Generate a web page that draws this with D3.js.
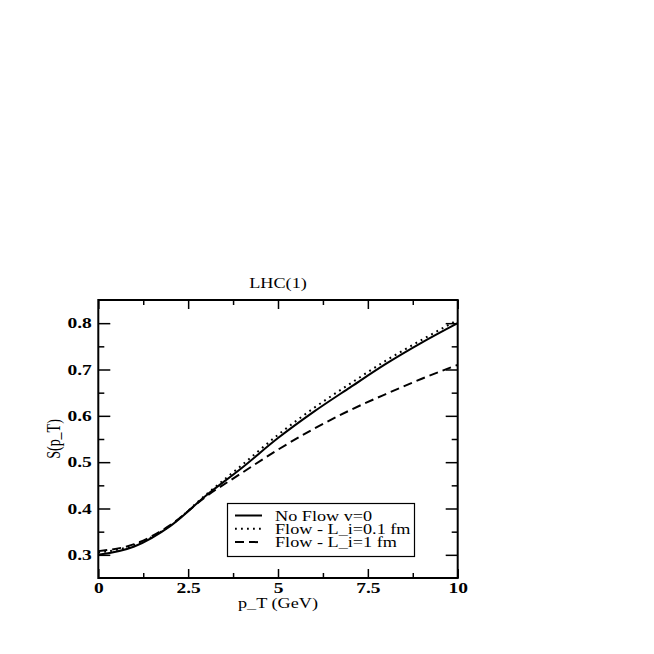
<!DOCTYPE html>
<html>
<head>
<meta charset="utf-8">
<script src="https://cdn.jsdelivr.net/npm/d3@7"></script>
<style>
  body { margin: 0; background: #fff; }
  svg { display: block; }
  .tick-label { font-family: 'Liberation Serif', 'Times New Roman', serif; font-weight: bold; font-size: 15px; }
  .axis-name { font-family: 'Liberation Serif', 'Times New Roman', serif; font-size: 14px; }
</style>
</head>
<body>
<div id="chart"></div>
<script>
// Data
const ptValues = [0, 1, 2, 3, 4, 5, 6, 7, 8, 9, 10];
const noFlow = [0.300, 0.318, 0.362, 0.428, 0.488, 0.552, 0.609, 0.661, 0.712, 0.758, 0.800];
const flowShort = [0.305, 0.321, 0.363, 0.430, 0.494, 0.559, 0.617, 0.669, 0.719, 0.764, 0.807];
const flowLong = [0.308, 0.323, 0.364, 0.426, 0.477, 0.527, 0.572, 0.612, 0.647, 0.680, 0.710];

const seriesNames = ['No Flow v=0', 'Flow - L_i=0.1 fm', 'Flow - L_i=1 fm'];
const xMajor = [0, 2.5, 5, 7.5, 10];
const xMinor = [1.25, 3.75, 6.25, 8.75];
const yMajor = [0.3, 0.4, 0.5, 0.6, 0.7, 0.8];
const yMinor = [0.35, 0.45, 0.55, 0.65, 0.75];

const width = 654;
const height = 654;
const stretch = 1.3; // glyphs in the picture are wider than tall

const svg = d3.select('#chart')
  .append('svg')
  .attr('width', width)
  .attr('height', height);

svg.append('rect').attr('width', width).attr('height', height).attr('fill', '#fff');

const x = d3.scaleLinear().domain([0, 10]).range([98.3, 457.7]);
const y = d3.scaleLinear().domain([0.25, 0.85]).range([578, 300]);

const [x0, x1] = x.range();
const [yb, yt] = y.range();

// ticks inside the frame, on all four sides
function drawTicks(axis, tx, ty, values, size, labels) {
  const g = svg.append('g')
    .attr('transform', `translate(${tx},${ty})`)
    .call(axis.tickValues(values).tickSize(-size).tickSizeOuter(0).tickPadding(labels ? 6 : 0)
      .tickFormat(labels ? (d) => String(d) : ''));
  g.select('.domain').remove();
  g.selectAll('.tick line').attr('stroke', '#000').attr('stroke-width', 1.5);
  return g;
}

const bottom = drawTicks(d3.axisBottom(x), 0, yb, xMajor, 9, true);
drawTicks(d3.axisBottom(x), 0, yb, xMinor, 5, false);
drawTicks(d3.axisTop(x), 0, yt, xMajor, 9, false);
drawTicks(d3.axisTop(x), 0, yt, xMinor, 5, false);
const left = drawTicks(d3.axisLeft(y), x0, 0, yMajor, 12, true);
drawTicks(d3.axisLeft(y), x0, 0, yMinor, 6, false);
drawTicks(d3.axisRight(y), x1, 0, yMajor, 12, false);
drawTicks(d3.axisRight(y), x1, 0, yMinor, 6, false);

bottom.selectAll('text')
  .attr('class', 'tick-label')
  .attr('fill', '#000')
  .attr('y', 4)
  .attr('transform', `scale(${stretch},1)`);

left.selectAll('text')
  .attr('class', 'tick-label')
  .attr('fill', '#000')
  .attr('x', -5)
  .attr('transform', `scale(${stretch},1)`);

// frame
svg.append('rect')
  .attr('x', x0)
  .attr('y', yt)
  .attr('width', x1 - x0)
  .attr('height', yb - yt)
  .attr('fill', 'none')
  .attr('stroke', '#000')
  .attr('stroke-width', 2);

// curves
const styles = [
  { dash: null, w: 2 },
  { dash: '1.8,4.2', w: 2 },
  { dash: '9,5', w: 2 },
];
const allSeries = [noFlow, flowShort, flowLong];

const line = d3.line()
  .curve(d3.curveMonotoneX)
  .x((d) => x(d[0]))
  .y((d) => y(d[1]));

allSeries.forEach((vals, i) => {
  svg.append('path')
    .datum(ptValues.map((p, k) => [p, vals[k]]))
    .attr('fill', 'none')
    .attr('stroke', '#000')
    .attr('stroke-width', styles[i].w)
    .attr('stroke-dasharray', styles[i].dash)
    .attr('d', line);
});

// labels
function stretchedText(tx, ty, str, anchor) {
  return svg.append('text')
    .attr('class', 'axis-name')
    .attr('transform', `translate(${tx},${ty}) scale(${stretch},1)`)
    .attr('text-anchor', anchor)
    .text(str);
}

stretchedText((x0 + x1) / 2, 288, 'LHC(1)', 'middle');
stretchedText((x0 + x1) / 2, 608, 'p_T (GeV)', 'middle');

svg.append('text')
  .attr('class', 'axis-name')
  .attr('text-anchor', 'middle')
  .attr('transform', `translate(60,${(yt + yb) / 2}) rotate(-90) scale(1,${stretch})`)
  .text('S(p_T)');

// legend
const legend = svg.append('g');
legend.append('rect')
  .attr('x', 227.5)
  .attr('y', 503.5)
  .attr('width', 187)
  .attr('height', 53)
  .attr('fill', '#fff')
  .attr('stroke', '#000')
  .attr('stroke-width', 1.2);

seriesNames.forEach((name, i) => {
  const cy = 515.5 + i * 13.3;
  legend.append('line')
    .attr('x1', 235)
    .attr('x2', 262)
    .attr('y1', cy)
    .attr('y2', cy)
    .attr('stroke', '#000')
    .attr('stroke-width', 2)
    .attr('stroke-dasharray', styles[i].dash);
  stretchedText(275, cy + 5, name, 'start');
});
</script>
</body>
</html>
